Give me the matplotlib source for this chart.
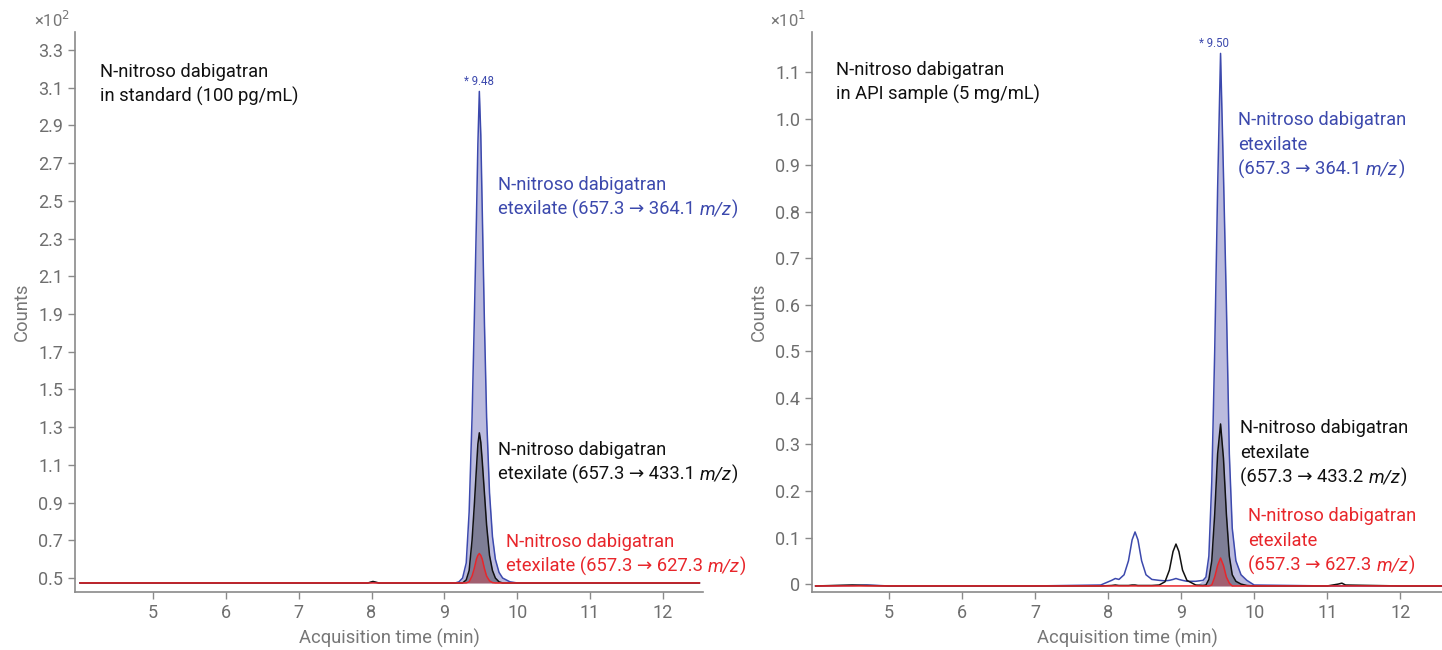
import matplotlib
matplotlib.use("Agg")
import matplotlib.pyplot as plt
import numpy as np

plt.rcParams['font.family'] = ['Roboto', 'DejaVu Sans']

# ---- left panel: standard (counts x10^2) ----
t_std = [4.0, 5.0, 6.0, 7.0, 7.95, 8.02, 8.1, 9.0, 9.15, 9.2, 9.25, 9.3, 9.34, 9.38, 9.41, 9.44,
         9.46, 9.48, 9.50, 9.52, 9.55, 9.58, 9.62, 9.66, 9.70, 9.75, 9.80, 9.9, 10.0, 11.0, 12.0, 12.5]
blue_std = [0.474, 0.474, 0.474, 0.474, 0.474, 0.478, 0.474, 0.474, 0.474, 0.48, 0.50, 0.58, 0.85, 1.35, 1.85, 2.4,
            2.8, 3.08, 2.85, 2.45, 1.85, 1.35, 0.95, 0.72, 0.60, 0.53, 0.50, 0.48, 0.474, 0.474, 0.474, 0.474]
black_std = [0.474, 0.474, 0.474, 0.474, 0.474, 0.482, 0.474, 0.474, 0.474, 0.474, 0.474, 0.49, 0.54, 0.70, 0.88, 1.08,
             1.21, 1.27, 1.22, 1.12, 0.95, 0.78, 0.62, 0.54, 0.50, 0.48, 0.474, 0.474, 0.474, 0.474, 0.474, 0.474]
red_std = [0.474, 0.474, 0.474, 0.474, 0.474, 0.474, 0.474, 0.474, 0.474, 0.474, 0.474, 0.474, 0.48, 0.51, 0.55, 0.60,
           0.62, 0.63, 0.62, 0.60, 0.55, 0.51, 0.485, 0.476, 0.474, 0.474, 0.474, 0.474, 0.474, 0.474, 0.474, 0.474]

# ---- right panel: API sample (counts x10^1) ----
t_api = [4.0, 4.5, 4.7, 5.0, 6.0, 7.0, 7.9, 8.05, 8.1, 8.15, 8.22, 8.28, 8.33, 8.37, 8.41, 8.46,
         8.52, 8.6, 8.7, 8.78, 8.84, 8.89, 8.93, 8.97, 9.02, 9.08, 9.2, 9.3, 9.34, 9.38, 9.42, 9.46,
         9.50, 9.54, 9.58, 9.62, 9.66, 9.70, 9.75, 9.82, 9.9, 10.0, 11.0, 11.15, 11.2, 11.25, 12.0, 12.6]
blue_api = [-0.004, -0.003, -0.002, -0.004, -0.004, -0.004, -0.002, 0.008, 0.012, 0.01, 0.02, 0.05, 0.095, 0.112, 0.095, 0.05,
            0.02, 0.01, 0.008, 0.007, 0.008, 0.01, 0.012, 0.01, 0.008, 0.006, 0.006, 0.008, 0.015, 0.06, 0.22, 0.50,
            0.85, 1.14, 0.88, 0.60, 0.28, 0.12, 0.05, 0.02, 0.008, -0.002, -0.004, -0.004, -0.004, -0.004, -0.004, -0.004]
black_api = [-0.004, -0.002, -0.003, -0.004, -0.004, -0.004, -0.004, -0.003, -0.002, -0.003, -0.003, -0.003, -0.002, -0.002, -0.003, -0.003,
             -0.003, -0.003, -0.002, 0.005, 0.03, 0.07, 0.086, 0.07, 0.03, 0.008, -0.002, -0.003, -0.002, 0.01, 0.05, 0.15,
             0.28, 0.344, 0.27, 0.15, 0.06, 0.02, 0.006, 0.0, -0.003, -0.004, -0.004, 0.0, 0.002, -0.002, -0.004, -0.004]
red_api = [-0.004, -0.004, -0.004, -0.004, -0.004, -0.004, -0.004, -0.004, -0.004, -0.004, -0.004, -0.004, -0.004, -0.004, -0.004, -0.004,
           -0.004, -0.004, -0.004, -0.004, -0.004, -0.004, -0.004, -0.004, -0.004, -0.004, -0.004, -0.004, -0.004, -0.004, -0.002, 0.015,
           0.04, 0.056, 0.04, 0.015, 0.002, -0.004, -0.004, -0.004, -0.004, -0.004, -0.004, -0.004, -0.004, -0.004, -0.004, -0.004]

std_ticks = [0.5, 0.7, 0.9, 1.1, 1.3, 1.5, 1.7, 1.9, 2.1, 2.3, 2.5, 2.7, 2.9, 3.1, 3.3]
api_ticks = [0, 0.1, 0.2, 0.3, 0.4, 0.5, 0.6, 0.7, 0.8, 0.9, 1.0, 1.1]
x_ticks = [5, 6, 7, 8, 9, 10, 11, 12]

BLUE = '#3c49ad'
RED = '#e8262b'
BLACK = '#111111'
GREY = '#777777'
FS = 13.2
PITCH = 17.6  # line pitch in points

W, H = 1442, 650
fig = plt.figure(figsize=(W / 100, H / 100), dpi=100)
ax1 = fig.add_axes([75 / W, 1 - 592 / H, 628 / W, 560 / H])
ax2 = fig.add_axes([812 / W, 1 - 592 / H, 630 / W, 560 / H])


def draw(ax, t, traces, base, windows):
    t = np.array(t)
    for (vals, col, fcol, alpha), (lo, hi) in zip(traces, windows):
        vals = np.array(vals)
        m = (t >= lo) & (t <= hi)
        ax.fill_between(t, base, vals, where=m, color=fcol, alpha=alpha, lw=0, interpolate=True)
    for vals, col, fcol, alpha in traces:
        ax.plot(t, vals, color=col, lw=1.1)


def style(ax, yticks, fmt):
    for s in ['top', 'right']:
        ax.spines[s].set_visible(False)
    for s in ['left', 'bottom']:
        ax.spines[s].set_color('#8a8a8a')
        ax.spines[s].set_linewidth(1.2)
    ax.set_xticks(x_ticks)
    ax.set_yticks(yticks)
    ax.set_yticklabels([fmt(v) for v in yticks])
    ax.tick_params(colors='#8a8a8a', labelcolor='#6e6e6e', labelsize=13, length=5, width=1)
    ax.set_xlabel('Acquisition time (min)', color=GREY, fontsize=13.2, labelpad=5)
    ax.set_ylabel('Counts', color=GREY, fontsize=13.2, labelpad=5)


def label(ax, x, y, lines, color, coords='data', italic_tail=True):
    last = None
    for i, ln in enumerate(lines):
        last = ax.annotate(ln, xy=(x, y), xycoords=coords, xytext=(0, -PITCH * i),
                           textcoords='offset points', fontsize=FS, color=color,
                           ha='left', va='center')
    if italic_tail:
        it = ax.annotate('m/z', xy=(1, 0.5), xycoords=last, xytext=(3.5, 0),
                         textcoords='offset points', fontsize=FS, color=color,
                         style='italic', ha='left', va='center')
        ax.annotate(')', xy=(1, 0.5), xycoords=it, xytext=(0.6, 0),
                    textcoords='offset points', fontsize=FS, color=color,
                    ha='left', va='center')


draw(ax1, t_std,
     [(blue_std, BLUE, '#b4b4db', 0.9), (black_std, BLACK, '#000000', 0.32), (red_std, RED, '#e8262b', 0.35)],
     0.474, [(9.2, 9.9), (9.25, 9.8), (9.3, 9.7)])
ax1.set_xlim(3.93, 12.55)
ax1.set_ylim(0.426, 3.395)
style(ax1, std_ticks, lambda v: f'{v:.1f}')

draw(ax2, t_api,
     [(blue_api, BLUE, '#b4b4db', 0.9), (black_api, BLACK, '#000000', 0.32), (red_api, RED, '#e8262b', 0.35)],
     -0.004, [(9.3, 10.0), (9.34, 9.9), (9.42, 9.7)])
ax2.set_xlim(3.95, 12.57)
ax2.set_ylim(-0.017, 1.186)
style(ax2, api_ticks, lambda v: '0' if v == 0 else f'{v:.1f}')

# left annotations
label(ax1, 0.04, 0.929, ['N-nitroso dabigatran', 'in standard (100 pg/mL)'], BLACK,
      coords='axes fraction', italic_tail=False)
label(ax1, 9.73, 2.584, ['N-nitroso dabigatran', 'etexilate (657.3 \u2192 364.1'], BLUE)
label(ax1, 9.73, 1.179, ['N-nitroso dabigatran', 'etexilate (657.3 \u2192 433.1'], BLACK)
label(ax1, 9.84, 0.691, ['N-nitroso dabigatran', 'etexilate (657.3 \u2192 627.3'], RED)
ax1.text(9.47, 3.13, '* 9.48', fontsize=8.3, ha='center', va='center', color=BLUE)

# right annotations
label(ax2, 0.038, 0.932, ['N-nitroso dabigatran', 'in API sample (5 mg/mL)'], BLACK,
      coords='axes fraction', italic_tail=False)
label(ax2, 9.78, 0.996, ['N-nitroso dabigatran', 'etexilate', '(657.3 \u2192 364.1'], BLUE)
label(ax2, 9.81, 0.335, ['N-nitroso dabigatran', 'etexilate', '(657.3 \u2192 433.2'], BLACK)
label(ax2, 9.92, 0.146, ['N-nitroso dabigatran', 'etexilate', '(657.3 \u2192 627.3'], RED)
ax2.text(9.45, 1.161, '* 9.50', fontsize=8.3, ha='center', va='center', color=BLUE)

# exponent multipliers
fig.text(52 / W, 1 - 20 / H, '\u00d710$^{2}$', fontsize=12, color=GREY, ha='center', va='center')
fig.text(788 / W, 1 - 20 / H, '\u00d710$^{1}$', fontsize=12, color=GREY, ha='center', va='center')

fig.savefig('out.png', dpi=100)
